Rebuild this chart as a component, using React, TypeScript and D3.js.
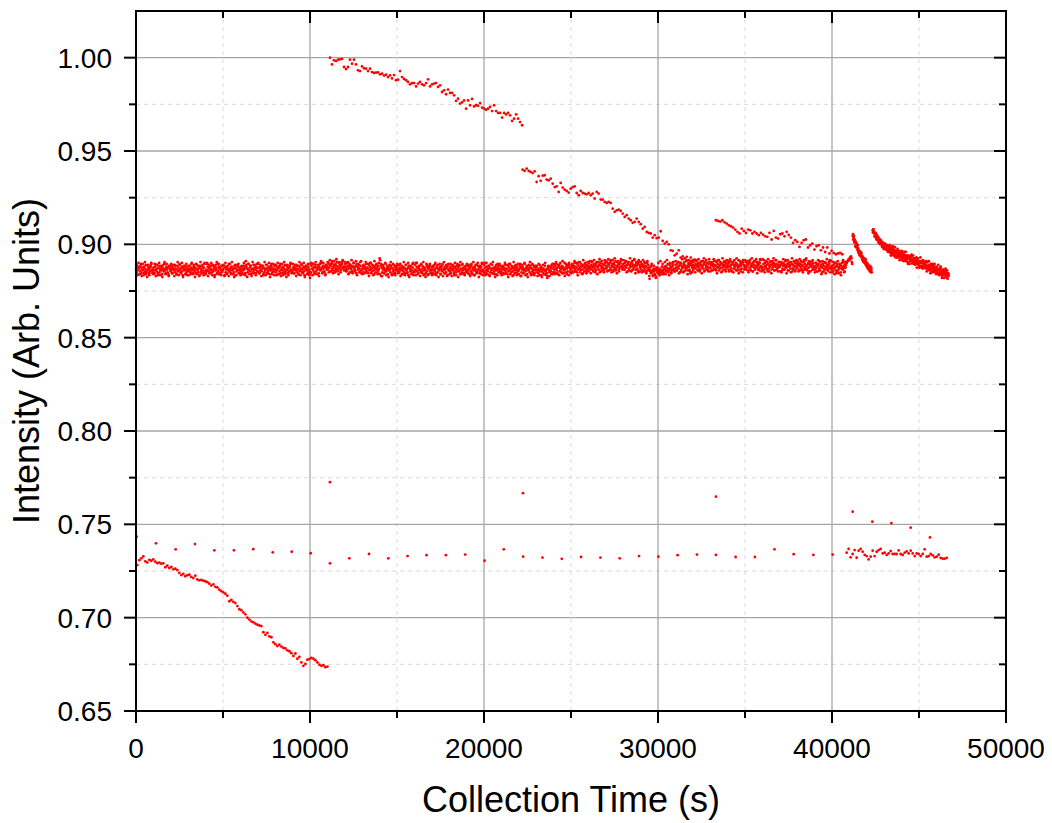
import React from "react";
import * as d3 from "d3";

// ---------- DATA ----------
const xMajorTicks = [0, 10000, 20000, 30000, 40000, 50000];
const xMinorTicks = [5000, 15000, 25000, 35000, 45000];
const yMajorTicks = [0.65, 0.7, 0.75, 0.8, 0.85, 0.9, 0.95, 1.0];
const yMinorTicks = [0.675, 0.725, 0.775, 0.825, 0.875, 0.925, 0.975];

// encoded intensity codes: value = CODE_BASE + CODE_STEP * index(char)
const CODE_ALPHABET = "0123456789ABCDEFGHIJKLMNOPQRSTUVWXYZabcdefghijklmnopqrstuvwxyz";
const CODE_BASE = 0.878;
const CODE_STEP = 0.0005;

// main band core: one string per 1000 s block, 32 points per block
const bandBlockSeconds = 1000;
const bandStep = 31.25;
const bandCodes = [
  "HELGJCIKFNDHJGBKIFMEHLGJDIFKOGHE",
  "JGDKHMFIBJLEHIGKCJHFNGIDKHEJALIG",
  "FIKDHJGMEIHCLFJGNHEIKFBJHLGIDKFH",
  "ILFHEJNGICKHFJDIMGHEJBLIFHKGDJOF",
  "EHGOKFIDJGLHEMFIKBGJHDNFKICJGLEH",
  "GILAJEHKDIGNFHJCKGIHELJBIFMHKDGJ",
  "HFKDIGLHJBQKIEHNGJFLCHIEMGJHDKIF",
  "FOJDGKHFILBJEHGMIDJFHKCIGNJEHFLI",
  "HELGJCIKFNDHJGBKIFMEHLGJDIFKOGHE",
  "FIKDHJGMEIHCLFJGNHEIKFBJHLGIDKFH",
  "8NELINGJCKMFIJHLDKIGOHJELIFKBMJH",
  "KHOJMFLNIQGKMJENLIPHKOJMGLINRJKH",
  "KNHJGLPIKEMJHLFKOIJGLDNKHJMIFLQH",
  "GJLEIKHNFJIDMGKHOIFJLGCKIMHJELGI",
  "TRLAJEHKDIGNFHJCKGIHELJBIFMHKDGJ",
  "ILFHEJNGICKHFJDIMGHEJBLIFHKGDJOF",
  "EHGOKFIDJGLHEMFIKBGJHDNFKICJGLEH",
  "JGDKHMFIBJLEHIGKCJHFNGIDKHEJALIG",
  "HFKDIGLHJBFKIEHNGJFLCHIEMGJHDKIF",
  "HELGJCIKFNDHJGBKIFMEHLGJDIFKOGHE",
  "FOJDGKHFILBJEHGMIDJFHKCIGNJEHFLI",
  "FIKDHJGMEIHCLFJGNHEIKFBJHLGIDKFH",
  "GILAJEHKDIGNFHJCKGIHELJBIFMHKDGJ",
  "HKEGDIMFHBJGEICHLFGDIAKHEGJFCINE",
  "KHELINGJCKMFIJHLDKIGOHJELIFKBMJH",
  "HKMFJLIOGKJENHLIPJGKMHDLJNIKFMHJ",
  "LOIKHMQJLFNKIMGLPJKHMEOLIKNJGMRI",
  "LIPKNGMOJRHLNKFOMJQILPKNHMJOSKLI",
  "NKHOLQJMFNPILMKOGNLJRKMHOLINEPMK",
  "ILNGKMJPHLKFOIMJAHFDLEGBIFCH8JGE",
  "DGIBFHEKCGEIKHCLJGNFIMHKEJGLPHIF",
  "MJGNKPILEMOHKLJNFMKIQJLGNKHMDOLJ",
  "MPJLINRKMGOLJNHMQKLINFPMJLOKHNSJ",
  "JMOHLNKQIMLGPJNKRLIMOJFNLPKMHOJL",
  "NKHOLQJMFNPILMKOGNLJRKMHOLINEPMK",
  "LIPKNGMOJRHLNKFOMJQILPKNHMJOSKLI",
  "JSNHKOLJMPFNILKQMHNJLOGMKRNILJPM",
  "KMPENILOHMKRJLNGOKMLIPNFMJQLOHKN",
  "JMOHLNKQIMLGPJNKRLIMOJFNLPKMHOJL",
  "KHOJMFLNIQGKMJENLIPHKOJMGLINRJKH",
  "LIFMJOHKDLNGJKIMELJHPIKFMJ",
];

// main band outer scatter: 16 points per block, offset 15 s
const bandOuterStep = 62.5;
const bandOuterOffset = 15;
const bandOuterCodes = [
  "MBOCLANDPC9MBLND",
  "CNAMDOBL9MPCNDBL",
  "NDMALCPBMDO9LCNB",
  "BLCODM9NCLAPDMBN",
  "CNAMDOBL9MPCNDBL",
  "MBOCLANDPC9MBLND",
  "BLCODM9NCLAPDMBN",
  "NDMALCPBMDO9LCNB",
  "MBOCLANDPC9MBLND",
  "NDMALCPBMDO9LCNB",
  "DOBNEPCMANQDOECM",
  "PERFODQGSFCPEOQG",
  "PFOCNERDOFQBNEPD",
  "CMDPENAODMBQENCO",
  "CNAMDOBL9MPCNDBL",
  "NDMALCPBMDO9LCNB",
  "MBOCLANDPC9MBLND",
  "BLCODM9NCLAPDMBN",
  "CNAMDOBL9MPCNDBL",
  "NDMALCPBMDO9LCNB",
  "MBOCLANDPC9MBLND",
  "BLCODM9NCLAPDMBN",
  "CNAMDOBL9MPCNDBL",
  "LANBK9MCOB8LAKMC",
  "NCPDMBOEQDANCMOE",
  "DNEQFOBPENCRFODP",
  "FQDPGREOCPSFQGEO",
  "QFSGPERHTGDQFPRH",
  "RHQEPGTFQHSDPGRF",
  "PERFODQG7KNALB9J",
  "ODQENCPFREBODNPF",
  "QGPDOFSEPGRCOFQE",
  "GREQHSFPDQTGRHFP",
  "FPGSHQDRGPETHQFR",
  "QFSGPERHTGDQFPRH",
  "RHQEPGTFQHSDPGRF",
  "GREQHSFPDQTGRHFP",
  "FPGSHQDRGPETHQFR",
  "QFSGPERHTGDQFPRH",
  "EOFRGPCQFODSGPEQ",
  "EPCOFQDNBOREP",
];

// small rise at the end of the main band
const bumpTimes = [40660, 40700, 40750, 40800, 40850, 40880, 40920, 40960, 41000, 41030, 41060, 41090, 41120, 41140, 41160];
const bumpValues = [0.8878, 0.8885, 0.8892, 0.8888, 0.89, 0.8908, 0.8912, 0.892, 0.8915, 0.8928, 0.8922, 0.8935, 0.8925, 0.8905, 0.8895];

// steep short segment (two interleaved code runs, 30 s apart each)
const segEStep = 30;
const segEStarts = [41190, 41205];
const segECodes = [
  "rnqkngjfhceZbXaWYUWRUQSORMPKNILHJFIEH",
  "tprlllfjfhbcaWaWZVSUPTRPSMOLNILJGLGJE",
];

// final decaying segment (two interleaved code runs, 30 s apart each)
const segFStep = 30;
const segFStarts = [42340, 42355];
const segFCodes = [
  "xyuvqurosn" + "okolilmigk" + "hdhjdfgcha" + "eacfadYcYe" + "aYbWabWYUZ" +
    "YWZUWYSZUW" + "TXURWSUPWT" + "UQTRVORTPR" + "TPNRPNTNPL" + "QOLQJOLOMJ" +
    "PMJLPJHMLH" + "JMIFKJGLHG" + "EJKEGHCHEI" + "FCFAGGCDBD" + "F9CDAC",
  "vyvruuqnqo" + "qlkmnjjkfj" + "hjehiecefa" + "fchZWfcZgW" + "YcfUZaUdWU" +
    "bRXZUbRVXQ" + "aTRaQUWNVT" + "NUWRXOPWNR" + "TMQUJRTMPJ" + "KUPKOIRLPK" +
    "NIQFPKIQGL" + "DNILNEJFNH" + "JCJHDMDBJE" + "KC8HEH8FCI" + "9DG7DA",
];

// upper segment near 1.00
const segAStart = 11150;
const segAStep = 115;
const segAValues = [
  1.0, 0.9964, 0.9986, 0.9982, 0.9989, 0.9991, 0.9993, 0.995, 0.9939, 0.995,
  0.9989, 0.9968, 0.9989, 0.9964, 0.9932, 0.9928, 0.9953, 0.9943, 0.9941, 0.9928,
  0.9941, 0.9923, 0.9918, 0.992, 0.9921, 0.9911, 0.9914, 0.9904, 0.9909, 0.9896,
  0.9905, 0.9889, 0.9907, 0.9879, 0.9882, 0.9928, 0.9896, 0.9886, 0.9879, 0.987,
  0.9857, 0.9864, 0.9864, 0.9846, 0.9861, 0.987, 0.9857, 0.9852, 0.9864, 0.9884,
  0.9846, 0.9857, 0.9861, 0.9864, 0.9843, 0.9852, 0.9816, 0.9825, 0.9804, 0.9829,
  0.9811, 0.9811, 0.9798, 0.9768, 0.978, 0.9754, 0.9761, 0.9771, 0.9727, 0.9771,
  0.9745, 0.9779, 0.9739, 0.9745, 0.9743, 0.9757, 0.9732, 0.9727, 0.9721, 0.9727,
  0.9736, 0.9714, 0.9745, 0.9714, 0.9704, 0.9704, 0.9679, 0.9704, 0.9696, 0.9704,
  0.9691, 0.9661, 0.9673, 0.9696, 0.9673, 0.9655, 0.9638,
];

// second segment 0.94 -> 0.89
const segBStart = 22222;
const segBStep = 115;
const segBValues = [
  0.94, 0.9393, 0.9406, 0.9393, 0.9388, 0.9382, 0.9391, 0.9334, 0.9365, 0.934,
  0.9368, 0.937, 0.9347, 0.9343, 0.9352, 0.9325, 0.9307, 0.9311, 0.9281, 0.9329,
  0.9304, 0.9293, 0.9286, 0.9277, 0.9298, 0.9307, 0.9311, 0.9275, 0.9263, 0.9286,
  0.9275, 0.9272, 0.9268, 0.9275, 0.9263, 0.9272, 0.9245, 0.9281, 0.9272, 0.924,
  0.924, 0.9227, 0.9222, 0.9227, 0.9222, 0.9191, 0.9174, 0.9182, 0.9186, 0.9179,
  0.9165, 0.9147, 0.9156, 0.9138, 0.9129, 0.9115, 0.912, 0.9138, 0.912, 0.9108,
  0.9084, 0.9093, 0.9066, 0.9061, 0.9058, 0.9036, 0.9049, 0.9033, 0.9036, 0.907,
  0.9018, 0.9004, 0.9013, 0.9, 0.8968, 0.8965, 0.8941, 0.895, 0.8968, 0.8929,
  0.8936, 0.8924, 0.8933, 0.8915, 0.8929, 0.8915, 0.8918,
];

// third segment 0.913 -> 0.895
const segCStart = 33333;
const segCStep = 123;
const segCValues = [
  0.9129, 0.9125, 0.9122, 0.9129, 0.9118, 0.9111, 0.9102, 0.9097, 0.909, 0.9079,
  0.9067, 0.9058, 0.9084, 0.9072, 0.9061, 0.9079, 0.9075, 0.9058, 0.9067, 0.9058,
  0.9049, 0.9061, 0.9052, 0.9043, 0.904, 0.9061, 0.9026, 0.9072, 0.9036, 0.9031,
  0.9054, 0.9058, 0.9043, 0.9067, 0.905, 0.9036, 0.9008, 0.9022, 0.9013, 0.8986,
  0.9008, 0.9022, 0.9026, 0.8983, 0.8995, 0.9004, 0.8972, 0.899, 0.8995, 0.8968,
  0.8983, 0.8959, 0.8983, 0.8951, 0.8965, 0.8954, 0.8947, 0.8951, 0.8954, 0.8947,
];

// lower decaying segment 0.73 -> 0.673
const segDStart = 75;
const segDStep = 115;
const segDValues = [
  0.7282, 0.7308, 0.7318, 0.7328, 0.7302, 0.7296, 0.731, 0.7305, 0.7312, 0.73,
  0.7292, 0.7295, 0.7289, 0.7291, 0.727, 0.7278, 0.7266, 0.7272, 0.7259, 0.7262,
  0.7255, 0.724, 0.7228, 0.7235, 0.7222, 0.7228, 0.723, 0.7218, 0.7212, 0.7225,
  0.7205, 0.72, 0.7202, 0.7198, 0.7195, 0.719, 0.7182, 0.7172, 0.7178, 0.7165,
  0.7162, 0.715, 0.7142, 0.7135, 0.7128, 0.7118, 0.7088, 0.7095, 0.7085, 0.7078,
  0.7062, 0.7045, 0.704, 0.7028, 0.7018, 0.7, 0.699, 0.698, 0.6975, 0.6968,
  0.6962, 0.6958, 0.6955, 0.6922, 0.6908, 0.6918, 0.69, 0.6895, 0.6868, 0.6858,
  0.6848, 0.6855, 0.6845, 0.6838, 0.6835, 0.6825, 0.682, 0.681, 0.6795, 0.6808,
  0.678, 0.679, 0.676, 0.6742, 0.6752, 0.6775, 0.6778, 0.6785, 0.678, 0.6772,
  0.676, 0.6748, 0.6742, 0.6745, 0.6735, 0.6738,
];

// lower cluster near 0.734 at the end
const lowClusterStart = 40842;
const lowClusterStep = 115;
const lowClusterValues = [
  0.7348, 0.7368, 0.7323, 0.7341, 0.7362, 0.7321, 0.7359, 0.7368, 0.7353, 0.7336,
  0.733, 0.7312, 0.7327, 0.7359, 0.733, 0.7353, 0.7362, 0.7368, 0.7344, 0.7348,
  0.7336, 0.7344, 0.7357, 0.7341, 0.7341, 0.7341, 0.736, 0.7341, 0.7336, 0.7348,
  0.7355, 0.7344, 0.7359, 0.7344, 0.733, 0.7344, 0.7341, 0.733, 0.7341, 0.7366,
  0.7327, 0.733, 0.7341, 0.7334, 0.7323, 0.7327, 0.7337, 0.732, 0.7316, 0.7316,
  0.732,
];

// sparse points near 0.735
const sparseTimes = [
  40, 1150, 2280, 3390, 4500, 5630, 6740, 7860, 8950, 10040, 11150, 12260, 13390,
  14500, 15610, 16700, 17810, 18920, 20030, 21140, 22250, 23360, 24470, 25580,
  26690, 27800, 28910, 30020, 31130, 32240, 33330, 34460, 35570, 36690, 37800,
  38930, 40040,
];
const sparseValues = [
  0.7434, 0.7398, 0.7366, 0.7394, 0.7361, 0.7361, 0.7367, 0.735, 0.7353, 0.7345,
  0.7291, 0.7318, 0.7341, 0.7318, 0.733, 0.7335, 0.7335, 0.7338, 0.7305, 0.7366,
  0.7327, 0.7322, 0.7315, 0.7325, 0.7322, 0.7318, 0.733, 0.7327, 0.7335, 0.7338,
  0.7336, 0.7325, 0.7325, 0.7366, 0.734, 0.7336, 0.7338,
];

// isolated high points
const outlierTimes = [11150, 22240, 33330, 41190, 42320, 43410, 44520, 45630];
const outlierValues = [0.7726, 0.7667, 0.7648, 0.7568, 0.7514, 0.7507, 0.7482, 0.743];

// ---------- LAYOUT ----------
const W = 1052;
const H = 823;
const left = 136;
const right = 1006;
const top = 11;
const bottom = 711;

const decode = (ch: string) => CODE_BASE + CODE_STEP * CODE_ALPHABET.indexOf(ch);

function buildPoints(): [number, number][] {
  const pts: [number, number][] = [];
  bandCodes.forEach((s, b) => {
    for (let j = 0; j < s.length; j++) pts.push([b * bandBlockSeconds + j * bandStep, decode(s[j])]);
  });
  bandOuterCodes.forEach((s, b) => {
    for (let j = 0; j < s.length; j++)
      pts.push([b * bandBlockSeconds + bandOuterOffset + j * bandOuterStep, decode(s[j])]);
  });
  bumpTimes.forEach((t, i) => pts.push([t, bumpValues[i]]));
  segECodes.forEach((s, k) => {
    for (let i = 0; i < s.length; i++) pts.push([segEStarts[k] + i * segEStep, decode(s[i])]);
  });
  segFCodes.forEach((s, k) => {
    for (let i = 0; i < s.length; i++) pts.push([segFStarts[k] + i * segFStep, decode(s[i])]);
  });
  segAValues.forEach((v, i) => pts.push([segAStart + i * segAStep, v]));
  segBValues.forEach((v, i) => pts.push([segBStart + i * segBStep, v]));
  segCValues.forEach((v, i) => pts.push([segCStart + i * segCStep, v]));
  segDValues.forEach((v, i) => pts.push([segDStart + i * segDStep, v]));
  lowClusterValues.forEach((v, i) => pts.push([lowClusterStart + i * lowClusterStep, v]));
  sparseTimes.forEach((t, i) => pts.push([t, sparseValues[i]]));
  outlierTimes.forEach((t, i) => pts.push([t, outlierValues[i]]));
  return pts;
}

export default function App() {
  const x = d3.scaleLinear().domain([0, 50000]).range([left, right]);
  const y = d3.scaleLinear().domain([0.65, 1.025]).range([bottom, top]);
  const pts = buildPoints();
  const fmtY = d3.format(".2f");
  const font = "'Liberation Sans', Arial, sans-serif";
  const majorLen = 12;
  const minorLen = 7;

  return (
    <svg width={W} height={H} style={{ position: "absolute", left: 0, top: 0, background: "#fff" }}>
      <rect x={0} y={0} width={W} height={H} fill="#fff" />
      {/* minor grid */}
      {xMinorTicks.map((t) => (
        <line key={"xm" + t} x1={x(t)} x2={x(t)} y1={top} y2={bottom} stroke="#d9d9d9" strokeWidth={1} strokeDasharray="4,4" />
      ))}
      {yMinorTicks.map((t) => (
        <line key={"ym" + t} x1={left} x2={right} y1={y(t)} y2={y(t)} stroke="#d9d9d9" strokeWidth={1} strokeDasharray="4,4" />
      ))}
      {/* major grid */}
      {xMajorTicks.slice(1, -1).map((t) => (
        <line key={"xg" + t} x1={x(t)} x2={x(t)} y1={top} y2={bottom} stroke="#a6a6a6" strokeWidth={1.3} />
      ))}
      {yMajorTicks.slice(1).map((t) => (
        <line key={"yg" + t} x1={left} x2={right} y1={y(t)} y2={y(t)} stroke="#a6a6a6" strokeWidth={1.3} />
      ))}
      {/* points */}
      <g fill="#ff0000">
        {pts.map((p, i) => (
          <circle key={i} cx={x(p[0])} cy={y(p[1])} r={1.4} />
        ))}
      </g>
      {/* frame */}
      <rect x={left} y={top} width={right - left} height={bottom - top} fill="none" stroke="#000" strokeWidth={2} />
      {/* bottom ticks (outward) and top ticks (inward) */}
      {xMajorTicks.map((t) => (
        <g key={"xt" + t}>
          <line x1={x(t)} x2={x(t)} y1={bottom} y2={bottom + majorLen} stroke="#000" strokeWidth={2} />
          <line x1={x(t)} x2={x(t)} y1={top} y2={top + majorLen} stroke="#000" strokeWidth={2} />
          <text x={x(t)} y={758} textAnchor="middle" fontFamily={font} fontSize={28} fill="#000">
            {t}
          </text>
        </g>
      ))}
      {xMinorTicks.map((t) => (
        <g key={"xmt" + t}>
          <line x1={x(t)} x2={x(t)} y1={bottom} y2={bottom + minorLen} stroke="#000" strokeWidth={2} />
          <line x1={x(t)} x2={x(t)} y1={top} y2={top + minorLen} stroke="#000" strokeWidth={2} />
        </g>
      ))}
      {/* left ticks (outward) and right ticks (inward) */}
      {yMajorTicks.map((t) => (
        <g key={"yt" + t}>
          <line x1={left - majorLen} x2={left} y1={y(t)} y2={y(t)} stroke="#000" strokeWidth={2} />
          <line x1={right - majorLen} x2={right} y1={y(t)} y2={y(t)} stroke="#000" strokeWidth={2} />
          <text x={112} y={y(t) + 10} textAnchor="end" fontFamily={font} fontSize={28} fill="#000">
            {fmtY(t)}
          </text>
        </g>
      ))}
      {yMinorTicks.map((t) => (
        <g key={"ymt" + t}>
          <line x1={left - minorLen} x2={left} y1={y(t)} y2={y(t)} stroke="#000" strokeWidth={2} />
          <line x1={right - minorLen} x2={right} y1={y(t)} y2={y(t)} stroke="#000" strokeWidth={2} />
        </g>
      ))}
      {/* titles */}
      <text x={(left + right) / 2} y={812} textAnchor="middle" fontFamily={font} fontSize={36} fill="#000">
        Collection Time (s)
      </text>
      <text
        transform={`translate(39, ${(top + bottom) / 2}) rotate(-90)`}
        textAnchor="middle"
        fontFamily={font}
        fontSize={36}
        fill="#000"
      >
        Intensity (Arb. Units)
      </text>
    </svg>
  );
}
